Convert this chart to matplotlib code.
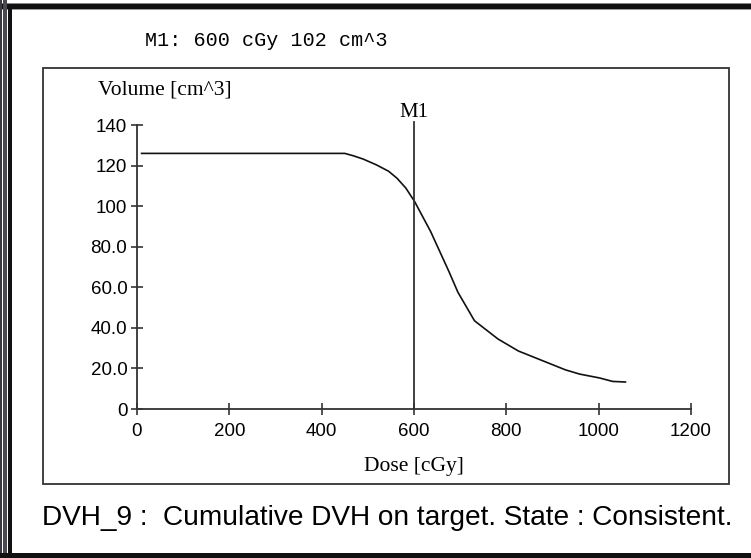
import matplotlib.pyplot as plt
from matplotlib.patches import Rectangle

# DVH data
dose = [10, 100, 200, 300, 400, 450, 469, 490, 519, 545, 563, 582, 601, 636,
        676, 695, 731, 782, 826, 928, 959, 1002, 1030, 1058]
volume = [126, 126, 126, 126, 126, 126, 124.8, 123.2, 120.3, 117.2, 113.8,
          109.0, 102.4, 87.5, 67.6, 57.6, 43.5, 34.5, 28.6, 19.3, 17.2, 15.3,
          13.6, 13.3]

marker_dose = 600
marker_label = "M1"
header = "M1: 600 cGy 102 cm^3"
caption = "DVH_9 :  Cumulative DVH on target. State : Consistent."

x_ticks = [0, 200, 400, 600, 800, 1000, 1200]
y_ticks = [0, 20, 40, 60, 80, 100, 120, 140]
y_labels = ["0", "20.0", "40.0", "60.0", "80.0", "100", "120", "140"]

W, H = 751, 558
fig = plt.figure(figsize=(W / 100, H / 100), dpi=100)
fig.patch.set_facecolor("white")

def px_rect(x0, y0, x1, y1, color, lw=0, fill=True, z=0):
    # rectangle given in pixel coords (top-left origin)
    r = Rectangle((x0 / W, 1 - y1 / H), (x1 - x0) / W, (y1 - y0) / H,
                  transform=fig.transFigure, facecolor=color if fill else "none",
                  edgecolor=color, linewidth=lw, zorder=z)
    fig.patches.append(r)

# outer window frame
px_rect(0, 3, W, 4, "#888888")
px_rect(0, 4, W, 9, "#111111")
px_rect(0, 9, W, 10, "#999999")
px_rect(0, 0, 2, H, "#3a3840")
px_rect(3, 0, 7, H, "#4a4850")
px_rect(8, 4, 12, H, "#111111")
px_rect(0, 553, W, H, "#111111")

# inner panel box
px_rect(43, 68, 729, 484, "#333333", lw=1.3, fill=False)

ax = fig.add_axes([137 / W, 1 - 409 / H, (691 - 137) / W, (409 - 125) / H])
ax.plot(dose, volume, color="#111111", lw=1.2)
ax.plot([marker_dose, marker_dose], [0, 141.5], color="#333333", lw=1.3, clip_on=False)
ax.text(marker_dose, 141.5, marker_label, ha="center", va="bottom",
        family="Liberation Serif", fontsize=15)

ax.set_xlim(0, 1200)
ax.set_ylim(0, 140)
for s in ["top", "right"]:
    ax.spines[s].set_visible(False)
for s in ["left", "bottom"]:
    ax.spines[s].set_color("#333333")
    ax.spines[s].set_linewidth(1.3)
ax.set_xticks(x_ticks)
ax.set_xticklabels([str(t) for t in x_ticks])
ax.set_yticks(y_ticks)
ax.set_yticklabels(y_labels)
ax.tick_params(direction="inout", length=8, width=1.2, color="#333333",
               labelsize=13.5, pad=3)
for lab in ax.get_xticklabels() + ax.get_yticklabels():
    lab.set_family("Liberation Sans")
ax.tick_params(axis="x", pad=6)

fig.text(98 / W, 1 - 90 / H, "Volume [cm^3]", family="Liberation Serif",
         fontsize=15.5, va="center", ha="left")
fig.text(414 / W, 1 - 467 / H, "Dose [cGy]", family="Liberation Serif",
         fontsize=15.5, va="center", ha="center")
fig.text(145 / W, 1 - 40 / H, header, family="Liberation Mono",
         fontsize=14.5, va="center", ha="left")
fig.text(42 / W, 1 - 518 / H, caption, family="Liberation Sans",
         fontsize=20.2, va="center", ha="left")

fig.savefig("out.png", dpi=100)
